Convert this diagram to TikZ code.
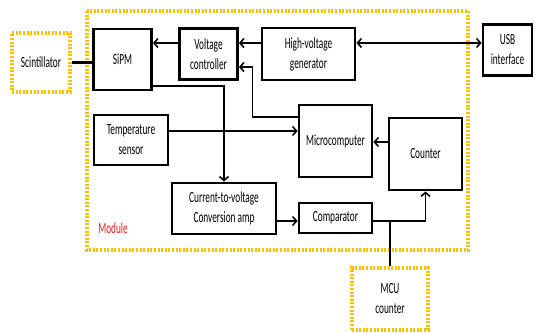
\documentclass[tikz,border=0pt]{standalone}
\usepackage{fontspec}
\setmainfont{Carlito}[FakeStretch=0.6]
\usetikzlibrary{arrows.meta}
\definecolor{modgold}{RGB}{255,192,0}
\definecolor{modred}{RGB}{225,30,35}

\begin{document}
\begin{tikzpicture}[x=1pt, y=-1pt,
    every node/.style={rectangle, align=center, inner sep=0pt, font=\fontsize{15.5}{20}\selectfont},
    blk/.style={draw, line width=2.8pt},
    ext/.style={draw=modgold, line width=3.4pt, dash pattern=on 2pt off 1.6pt},
    conn/.style={line width=1.6pt, -{Straight Barb[length=4pt,width=9pt]}}]
    \useasboundingbox (0,0) rectangle (535,332);
    \draw[ext] (87,11) rectangle (468,250);
    \node[ext, minimum width=58pt, minimum height=59pt] (scint) at (41,62.5) {Scintillator};
    \node[blk, minimum width=58pt, minimum height=61pt] (sipm) at (122.5,59.5) {SiPM};
    \node[blk, minimum width=58pt, minimum height=51pt] (vc) at (208.5,54) {Voltage\\controller};
    \node[blk, minimum width=93pt, minimum height=52pt] (hv) at (308.5,54) {High-voltage\\generator};
    \node[blk, minimum width=49pt, minimum height=51pt] (usb) at (507.5,50) {USB\\interface};
    \node[blk, minimum width=74pt, minimum height=50pt] (temp) at (131,140) {Temperature\\sensor};
    \node[blk, minimum width=73pt, minimum height=72pt] (micro) at (335.5,141) {Microcomputer};
    \node[blk, minimum width=73pt, minimum height=72pt] (counter) at (425.5,154) {Counter};
    \node[blk, minimum width=104pt, minimum height=51pt] (cva) at (224,208.5) {Current-to-voltage\\Conversion amp};
    \node[blk, minimum width=73pt, minimum height=30pt] (comp) at (335.5,218) {Comparator};
    \node[ext, minimum width=76pt, minimum height=62pt] (mcu) at (390,299) {MCU\\counter};
    \node[text=modred] (modlbl) at (113,228) {Module};
    \coordinate (cmpout) at ([yshift=-3pt]comp.east);
    \draw[line width=3pt] (scint.east) -- (scint.east -| sipm.west);
    \draw[conn] ([yshift=11pt]vc.west) -- ([yshift=11pt]vc.west -| sipm.east);
    \draw[conn] ([yshift=11pt]hv.west) -- ([yshift=11pt]hv.west -| vc.east);
    \draw[conn, {Straight Barb[length=4pt,width=9pt]}-{Straight Barb[length=4pt,width=9pt]}] ([yshift=7pt]usb.west) -- ([yshift=7pt]usb.west -| hv.east);
    \draw[conn] ([yshift=24pt]micro.west) -- ++(-45,0) |- ([yshift=-13pt]vc.east);
    \draw[conn] ([yshift=9pt]temp.east) -- ([yshift=9pt]temp.east -| micro.west);
    \draw[conn] ([yshift=-26.5pt]sipm.east) -| (cva.north);
    \draw[conn] ([yshift=-12.5pt]cva.east) -- ([yshift=-12.5pt]cva.east -| comp.west);
    \draw[conn] (cmpout) -| (counter.south);
    \draw[line width=1.6pt] (mcu.north) -- (mcu.north |- cmpout);
    \draw[conn] ([yshift=12pt]counter.west) -- ([yshift=12pt]counter.west -| micro.east);
\end{tikzpicture}
\end{document}
